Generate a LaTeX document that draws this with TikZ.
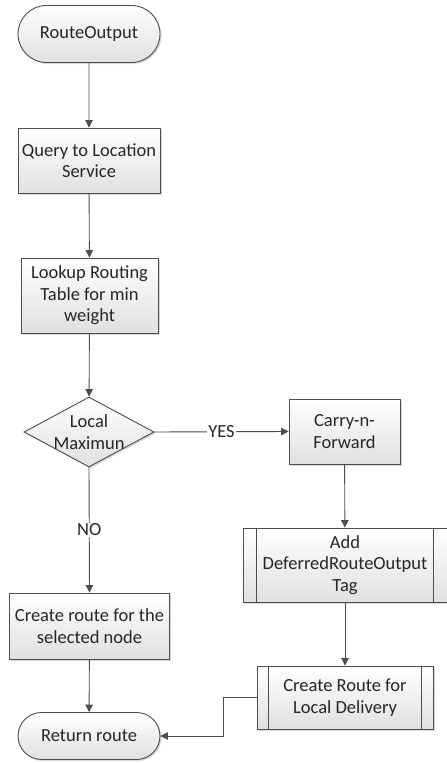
\documentclass[tikz,border=0pt]{standalone}
\usepackage{fontspec}
\setmainfont{Carlito}
\usetikzlibrary{shapes.geometric,shapes.misc,arrows.meta,shadows}
\definecolor{edgec}{HTML}{4D4D4D}
\definecolor{textc}{HTML}{262626}
\begin{document}
\begin{tikzpicture}[x=1pt,y=-1pt,
  base/.style={draw=edgec, line width=0.9pt, top color=white, bottom color=black!12,
    text=textc, align=center, inner sep=0pt,
    font=\fontsize{18.5}{21.5}\selectfont,
    drop shadow={shadow xshift=1.5pt, shadow yshift=-1.5pt, fill=black!30, opacity=0.5}},
  term/.style={base, rounded rectangle},
  proc/.style={base, rectangle},
  dec/.style={base, diamond},
  lbl/.style={text=textc, font=\fontsize{18.5}{21.5}\selectfont, inner sep=1pt},
  conn/.style={draw=edgec, line width=0.9pt, -{Triangle[width=7.5pt,length=7.5pt]}},
  bar/.style={draw=edgec, line width=0.9pt}]
\useasboundingbox (0,0) rectangle (447,763);

\node[term, minimum width=142pt, minimum height=57pt] (start) at (89,34) {RouteOutput};
\node[proc, minimum width=142pt, minimum height=65pt] (q) at (89,160.5) {Query to Location\\Service};
\node[proc, minimum width=137pt, minimum height=75pt] (l) at (89.5,295.5) {Lookup Routing\\Table for min\\weight};
\node[dec, minimum width=130pt, minimum height=70pt] (d) at (89,432) {};
\node[lbl, align=center] (dt) at (d.center) {Local\\Maximun};
\node[proc, minimum width=111pt, minimum height=65pt] (cf) at (344.5,431.5) {Carry-n-\\Forward};
\node[proc, minimum width=204pt, minimum height=74pt] (add) at (345,565) {Add\\DeferredRouteOutput\\Tag};
\draw[bar] ([xshift=14pt]add.north west) -- ([xshift=14pt]add.south west);
\draw[bar] ([xshift=-14pt]add.north east) -- ([xshift=-14pt]add.south east);
\node[proc, minimum width=160pt, minimum height=66pt] (cr) at (89.5,626) {Create route for the\\selected node};
\node[proc, minimum width=176pt, minimum height=63pt] (crl) at (345,697.5) {Create Route for\\Local Delivery};
\draw[bar] ([xshift=12pt]crl.north west) -- ([xshift=12pt]crl.south west);
\draw[bar] ([xshift=-12pt]crl.north east) -- ([xshift=-12pt]crl.south east);
\node[term, minimum width=142pt, minimum height=47pt] (ret) at (89,736) {Return route};

\draw[conn] (start) -- (q);
\draw[conn] (q) -- (l);
\draw[conn] (l) -- (d);
\draw[conn] (d.east) -- node[lbl, fill=white] (yes) {YES} (cf.west);
\draw[conn] (d.south) -- node[lbl, fill=white, pos=0.5] (no) {NO} (cr.north);
\draw[conn] (cr) -- (ret);
\draw[conn] (cf) -- (add);
\draw[conn] (add) -- (crl);
\coordinate (bend) at (223,697.5);
\draw[conn] (crl.west) -- (bend) |- (ret.east);
\end{tikzpicture}
\end{document}
